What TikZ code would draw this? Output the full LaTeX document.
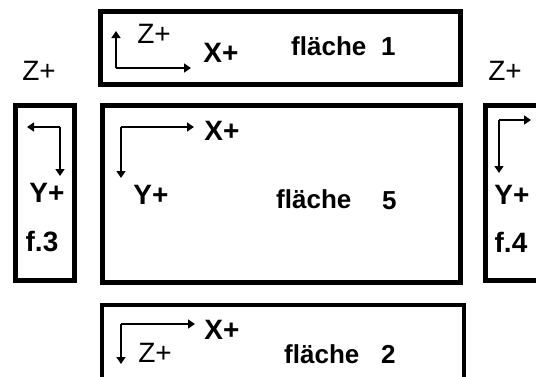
\documentclass[tikz,border=0pt]{standalone}
\usepackage{fontspec}
\setmainfont{Liberation Sans}
\usetikzlibrary{arrows.meta}
\tikzset{
  facebox/.style={draw=black, line width=5pt, fill=none, inner sep=0pt, outer sep=0pt},
  axis/.style={draw=black, line width=1.4pt, -{Triangle[length=7pt,width=9pt]}},
  lbl/.style={inner sep=0pt, font=\fontsize{28}{30}\selectfont\bfseries},
  zlbl/.style={inner sep=0pt, font=\fontsize{28}{30}\selectfont},
  face/.style={inner sep=0pt, anchor=base west, font=\fontsize{26}{28}\selectfont\bfseries},
}
\begin{document}
\begin{tikzpicture}[x=1pt, y=-1pt]
  \useasboundingbox (0,0) rectangle (536,376);
  \clip (0,0) rectangle (536,376);
  \fill[white] (0,0) rectangle (536,376);

  % the five faces
  \node[facebox, minimum width=360pt, minimum height=73pt] (f1) at (280.5,48) {};
  \node[facebox, minimum width=358pt, minimum height=177pt] (f5) at (281.5,194) {};
  \node[facebox, minimum width=59pt, minimum height=175pt] (f3) at (45,193) {};
  \node[facebox, minimum width=80pt, minimum height=175pt] (f4) at (525.5,193) {};
  \node[facebox, line width=4pt, minimum width=362pt, minimum height=95pt] (f2) at (283,352.5) {};

  % face 1: X to the right, Z upwards
  \coordinate (o1) at (116,68);
  \coordinate (x1) at (191,68);
  \coordinate (z1) at (116,31);
  \draw[axis] (o1) -- (x1);
  \draw[axis] (o1) -- (z1);
  \node[zlbl] (z1l) at (154,34) {Z+};
  \node[lbl] (x1l) at (221,53) {X+};
  \node[face] (t1) at (291,55) {fläche};
  \node[face] (n1) at (381,55) {1};

  % face 5: X to the right, Y downwards
  \coordinate (o5) at (121,127);
  \coordinate (x5) at (194,127);
  \coordinate (y5) at (121,178);
  \draw[axis] (o5) -- (x5);
  \draw[axis] (o5) -- (y5);
  \node[lbl] (x5l) at (222,131) {X+};
  \node[lbl] (y5l) at (151,195) {Y+};
  \node[face] (t5) at (276,208) {fläche};
  \node[face] (n5) at (382,209) {5};

  % face 2: X to the right, Z downwards
  \coordinate (o2) at (121,324);
  \coordinate (x2) at (195,324);
  \coordinate (z2) at (121,364);
  \draw[axis] (o2) -- (x2);
  \draw[axis] (o2) -- (z2);
  \node[lbl] (x2l) at (222,330) {X+};
  \node[zlbl] (z2l) at (155,353) {Z+};
  \node[face] (t2) at (284,363) {fläche};
  \node[face] (n2) at (381,363) {2};

  % face 3: Z to the left, Y downwards
  \coordinate (o3) at (60,127);
  \coordinate (z3) at (27,127);
  \coordinate (y3) at (60,176);
  \draw[axis] (o3) -- (z3);
  \draw[axis] (o3) -- (y3);
  \node[zlbl] (z3l) at (39,71) {Z+};
  \node[lbl] (y3l) at (47,193) {Y+};
  \node[lbl] (f3l) at (42,242) {f.3};

  % face 4: Z to the right, Y downwards
  \coordinate (o4) at (499,120);
  \coordinate (z4) at (531,120);
  \coordinate (y4) at (499,173);
  \draw[axis] (o4) -- (z4);
  \draw[axis] (o4) -- (y4);
  \node[zlbl] (z4l) at (505,71) {Z+};
  \node[lbl] (y4l) at (512,195) {Y+};
  \node[lbl] (f4l) at (511,242) {f.4};
\end{tikzpicture}
\end{document}
